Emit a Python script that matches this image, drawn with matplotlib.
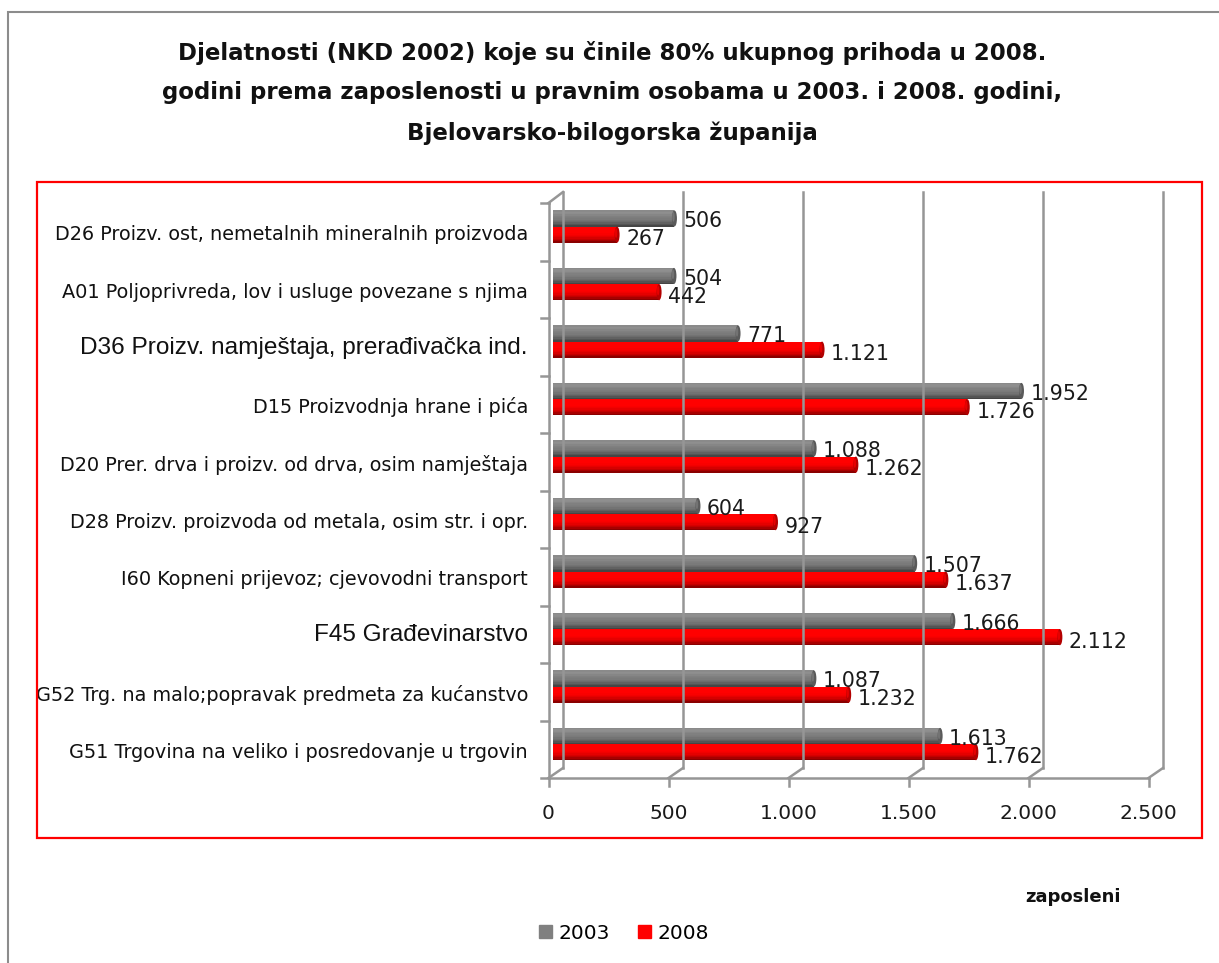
import numpy as np
import matplotlib
matplotlib.use("Agg")
import matplotlib.pyplot as plt
from matplotlib.patches import Rectangle, Ellipse, Patch
from matplotlib.colors import to_rgb

# --- Data ---
categories = [
    "D26 Proizv. ost, nemetalnih mineralnih proizvoda",
    "A01 Poljoprivreda, lov i usluge povezane s njima",
    "D36 Proizv. namještaja, prerađivačka ind.",
    "D15 Proizvodnja hrane i pića",
    "D20 Prer. drva i proizv. od drva, osim namještaja",
    "D28 Proizv. proizvoda od metala, osim str. i opr.",
    "I60 Kopneni prijevoz; cjevovodni transport",
    "F45 Građevinarstvo",
    "G52 Trg. na malo;popravak predmeta za kućanstvo",
    "G51 Trgovina na veliko i posredovanje u trgovin",
]
emp_2003 = [506, 504, 771, 1952, 1088, 604, 1507, 1666, 1087, 1613]
emp_2008 = [267, 442, 1121, 1726, 1262, 927, 1637, 2112, 1232, 1762]
big_labels = ["D36 Proizv. namještaja, prerađivačka ind.", "F45 Građevinarstvo"]
x_ticks = [0, 500, 1000, 1500, 2000, 2500]
series_names = ["2003", "2008"]
series_colors = ["#808080", "#ff0000"]

title_lines = [
    "Djelatnosti (NKD 2002) koje su činile 80% ukupnog prihoda u 2008.",
    "godini prema zaposlenosti u pravnim osobama u 2003. i 2008. godini,",
    "Bjelovarsko-bilogorska županija",
]


def fmt(v):
    return f"{v:,}".replace(",", ".")


W, H = 1219, 963
fig = plt.figure(figsize=(W / 100, H / 100), dpi=100)

# plot area in pixels: value 0 at x=553, 2500 at x=1153; rows from y=203 to y=778
ax = fig.add_axes([553 / W, (H - 778) / H, 600 / W, 575 / H])
n = len(categories)
ax.set_xlim(0, 2500)
ax.set_ylim(n, 0)
ax.axis("off")

PX = 2500 / 600          # data units per pixel (x)
PY = n / 575             # data units per pixel (y)
dxb, ytop, ybot = 10 * PX, -11 * PY, n - 10 * PY   # back wall
dxf = -4.5 * PX                                     # front edge
gcol = "#969696"

# back wall gridlines + floor
for v in x_ticks:
    ax.plot([v + dxb, v + dxb], [ytop, ybot], color=gcol, lw=1.8, clip_on=False)
    ax.plot([v + dxb, v + dxf], [ybot, n], color=gcol, lw=1.8, clip_on=False)
    ax.plot([v + dxf, v + dxf], [n, n + 8 * PY], color=gcol, lw=1.8, clip_on=False)
    ax.text(v + dxf, n + 35 * PY, fmt(v), ha="center", va="center",
            fontsize=14.5, color="#1a1a1a")
ax.plot([dxf, 2500 + dxf], [n, n], color=gcol, lw=1.8, clip_on=False)

# left (category) axis
ax.plot([dxf, dxf], [0, n], color=gcol, lw=1.8, clip_on=False)
ax.plot([dxf, dxb], [0, ytop], color=gcol, lw=1.8, clip_on=False)
for i in range(n + 1):
    ax.plot([dxf - 8 * PX, dxf], [i, i], color=gcol, lw=1.8, clip_on=False)

# cylinder-like bars
h = 0.28
offsets = [0.5 - 13.3 / 57.5, 0.5 + 2.9 / 57.5]
nstrip = 12
shade = [1.08, 1.12, 1.1, 1.05, 1.0, 0.98, 0.95, 0.9, 0.84, 0.76, 0.66, 0.54]
y_idx = np.arange(n)
for vals, off, col in zip([emp_2003, emp_2008], offsets, series_colors):
    base = np.array(to_rgb(col))
    yc = y_idx + off
    for k in range(nstrip):
        c = np.clip(base * shade[k], 0, 1)
        ys = yc - h / 2 + (k + 0.5) * h / nstrip
        ax.barh(ys, vals, height=h / nstrip + 0.002, color=c, linewidth=0)
    for v, y in zip(vals, yc):
        ax.add_patch(Ellipse((v, y), 5 * PX, h, color=np.clip(base * 0.7, 0, 1), lw=0))
        ax.add_patch(Ellipse((v - 1 * PX, y - h * 0.1), 2.5 * PX, h * 0.6,
                             color=np.clip(base * 0.9, 0, 1), lw=0))
        dy = 3 * PY if col == "#808080" else 4.5 * PY
        ax.text(v + 9 * PX, y + dy, fmt(v), ha="left", va="center",
                fontsize=14.8, color="#1a1a1a")

# category labels
for i, lab in enumerate(categories):
    x_lab = -(553 - 528) * PX
    if lab in big_labels:
        ax.text(x_lab, i + 0.52, lab, ha="right", va="center", fontsize=17.6,
                family="Liberation Sans", color="#111111")
    else:
        ax.text(x_lab, i + 0.55, lab, ha="right", va="center", fontsize=13.9,
                color="#111111")

# title
for j, line in enumerate(title_lines):
    fig.text(612 / W, 1 - (53 + 40 * j) / H, line, ha="center", va="center",
             fontsize=16.5, fontweight="bold", color="#111111")

fig.text(1073 / W, 1 - 897 / H, "zaposleni", ha="center", va="center",
         fontsize=13, fontweight="bold", color="#111111")

handles = [Patch(color=c) for c in series_colors]
fig.legend(handles, series_names, loc="center", bbox_to_anchor=(624 / W, 1 - 933 / H),
           ncol=2, frameon=False, handlelength=0.65, handleheight=0.65,
           handletextpad=0.3, columnspacing=1.4, fontsize=14.5)

# outer frame and red box
fig.add_artist(Rectangle((8 / W, -0.1), 1.2, (H - 12) / H + 0.1, transform=fig.transFigure,
                         fill=False, ec="#8c8c8c", lw=1.5))
fig.add_artist(Rectangle((37 / W, 1 - 838 / H), (1202 - 37) / W, (838 - 182) / H,
                         transform=fig.transFigure, fill=False, ec="#ff0000", lw=1.6))

fig.savefig("out.png", dpi=100)
